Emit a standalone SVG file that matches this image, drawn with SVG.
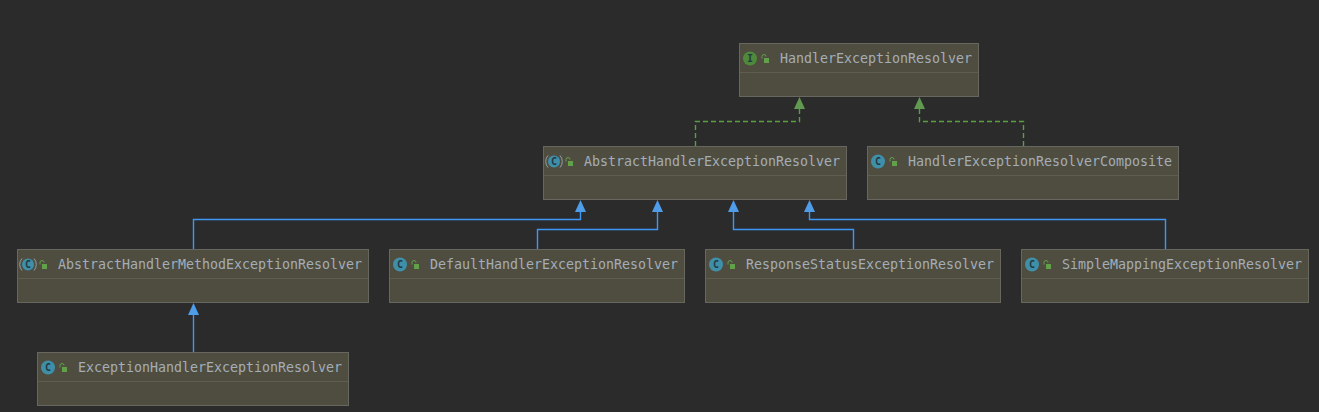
<svg xmlns="http://www.w3.org/2000/svg" width="1319" height="412" viewBox="0 0 1319 412">
<style>
.bg{fill:#2b2b2b}
.box{fill:#4f4d40;stroke:#67675f;stroke-width:1}
.div{stroke:#5f5d50;stroke-width:1}
.label{font-family:"DejaVu Sans Mono","Liberation Mono",monospace;font-size:13.3px;fill:#a3adb8}
.ic{fill:#3f8fa8}
.ii{fill:#4f8a3a}
.il{font-family:"DejaVu Sans Mono","Liberation Mono",monospace;font-size:10px;font-weight:bold;fill:#1f3a44;text-anchor:middle}
.lock{fill:#62a04a}
.shackle{fill:none;stroke:#62a04a;stroke-width:1}
.paren{fill:none;stroke:#8fa0a8;stroke-width:1}
.blue{fill:none;stroke:#3f97f5;stroke-width:1.400}
.green{fill:none;stroke:#57a03f;stroke-width:1.400;stroke-dasharray:5 3}
.ah-b{fill:#4f9ce8}
.ah-g{fill:#5f9a50}
</style>
<rect class="bg" width="1319" height="412"/>
<g id="connectors">
<path class="green" d="M695.500 146V121.500H799.500V108"/>
<path class="green" d="M1023.500 146V121.500H919.500V108"/>
<polygon class="ah-g" points="799.500,97 794,109 805,109"/>
<polygon class="ah-g" points="919.500,97 914,109 925,109"/>
<path class="blue" d="M193.500 249V219.500H580.500V211"/>
<path class="blue" d="M537.500 249V229.500H657.500V211"/>
<path class="blue" d="M853.500 249V229.500H733.500V211"/>
<path class="blue" d="M1165.500 249V219.500H809.500V211"/>
<path class="blue" d="M193.500 352V314"/>
<polygon class="ah-b" points="580.500,200 575,212 586,212"/>
<polygon class="ah-b" points="657.500,200 652,212 663,212"/>
<polygon class="ah-b" points="733.500,200 728,212 739,212"/>
<polygon class="ah-b" points="809.500,200 804,212 815,212"/>
<polygon class="ah-b" points="193.500,303 188,315 199,315"/>
</g>
<g id="n-HandlerExceptionResolver">
<rect class="box" x="739.500" y="43.500" width="239" height="53"/>
<line class="div" x1="740" x2="978" y1="72.500" y2="72.500"/>
<circle class="ii" cx="750" cy="58.500" r="7"/>
<text class="il" x="750" y="62">I</text>
<path class="shackle" d="M762 58.500V56.500a2 2 0 0 1 4 0"/><rect class="lock" x="764" y="58" width="5" height="5"/>
<text class="label" x="780" y="63" textLength="192">HandlerExceptionResolver</text>
</g>
<g id="n-AbstractHandlerExceptionResolver">
<rect class="box" x="543.500" y="146.500" width="303" height="53"/>
<line class="div" x1="544" x2="846" y1="175.500" y2="175.500"/>
<circle class="ic" cx="554" cy="161.500" r="6"/>
<path class="paren" d="M548 155.500a9 9 0 0 0 0 12M560 155.500a9 9 0 0 1 0 12"/>
<text class="il" x="554" y="165">C</text>
<path class="shackle" d="M566 161.500V159.500a2 2 0 0 1 4 0"/><rect class="lock" x="568" y="161" width="5" height="5"/>
<text class="label" x="584" y="166" textLength="256">AbstractHandlerExceptionResolver</text>
</g>
<g id="n-HandlerExceptionResolverComposite">
<rect class="box" x="867.500" y="146.500" width="311" height="53"/>
<line class="div" x1="868" x2="1178" y1="175.500" y2="175.500"/>
<circle class="ic" cx="878" cy="161.500" r="7"/>
<text class="il" x="878" y="165">C</text>
<path class="shackle" d="M890 161.500V159.500a2 2 0 0 1 4 0"/><rect class="lock" x="892" y="161" width="5" height="5"/>
<text class="label" x="908" y="166" textLength="264">HandlerExceptionResolverComposite</text>
</g>
<g id="n-AbstractHandlerMethodExceptionResolver">
<rect class="box" x="17.500" y="249.500" width="351" height="53"/>
<line class="div" x1="18" x2="368" y1="278.500" y2="278.500"/>
<circle class="ic" cx="28" cy="264.500" r="6"/>
<path class="paren" d="M22 258.500a9 9 0 0 0 0 12M34 258.500a9 9 0 0 1 0 12"/>
<text class="il" x="28" y="268">C</text>
<path class="shackle" d="M40 264.500V262.500a2 2 0 0 1 4 0"/><rect class="lock" x="42" y="264" width="5" height="5"/>
<text class="label" x="58" y="269" textLength="304">AbstractHandlerMethodExceptionResolver</text>
</g>
<g id="n-DefaultHandlerExceptionResolver">
<rect class="box" x="389.500" y="249.500" width="295" height="53"/>
<line class="div" x1="390" x2="684" y1="278.500" y2="278.500"/>
<circle class="ic" cx="400" cy="264.500" r="7"/>
<text class="il" x="400" y="268">C</text>
<path class="shackle" d="M412 264.500V262.500a2 2 0 0 1 4 0"/><rect class="lock" x="414" y="264" width="5" height="5"/>
<text class="label" x="430" y="269" textLength="248">DefaultHandlerExceptionResolver</text>
</g>
<g id="n-ResponseStatusExceptionResolver">
<rect class="box" x="705.500" y="249.500" width="295" height="53"/>
<line class="div" x1="706" x2="1000" y1="278.500" y2="278.500"/>
<circle class="ic" cx="716" cy="264.500" r="7"/>
<text class="il" x="716" y="268">C</text>
<path class="shackle" d="M728 264.500V262.500a2 2 0 0 1 4 0"/><rect class="lock" x="730" y="264" width="5" height="5"/>
<text class="label" x="746" y="269" textLength="248">ResponseStatusExceptionResolver</text>
</g>
<g id="n-SimpleMappingExceptionResolver">
<rect class="box" x="1021.500" y="249.500" width="287" height="53"/>
<line class="div" x1="1022" x2="1308" y1="278.500" y2="278.500"/>
<circle class="ic" cx="1032" cy="264.500" r="7"/>
<text class="il" x="1032" y="268">C</text>
<path class="shackle" d="M1044 264.500V262.500a2 2 0 0 1 4 0"/><rect class="lock" x="1046" y="264" width="5" height="5"/>
<text class="label" x="1062" y="269" textLength="240">SimpleMappingExceptionResolver</text>
</g>
<g id="n-ExceptionHandlerExceptionResolver">
<rect class="box" x="37.500" y="352.500" width="311" height="53"/>
<line class="div" x1="38" x2="348" y1="381.500" y2="381.500"/>
<circle class="ic" cx="48" cy="367.500" r="7"/>
<text class="il" x="48" y="371">C</text>
<path class="shackle" d="M60 367.500V365.500a2 2 0 0 1 4 0"/><rect class="lock" x="62" y="367" width="5" height="5"/>
<text class="label" x="78" y="372" textLength="264">ExceptionHandlerExceptionResolver</text>
</g>
</svg>
